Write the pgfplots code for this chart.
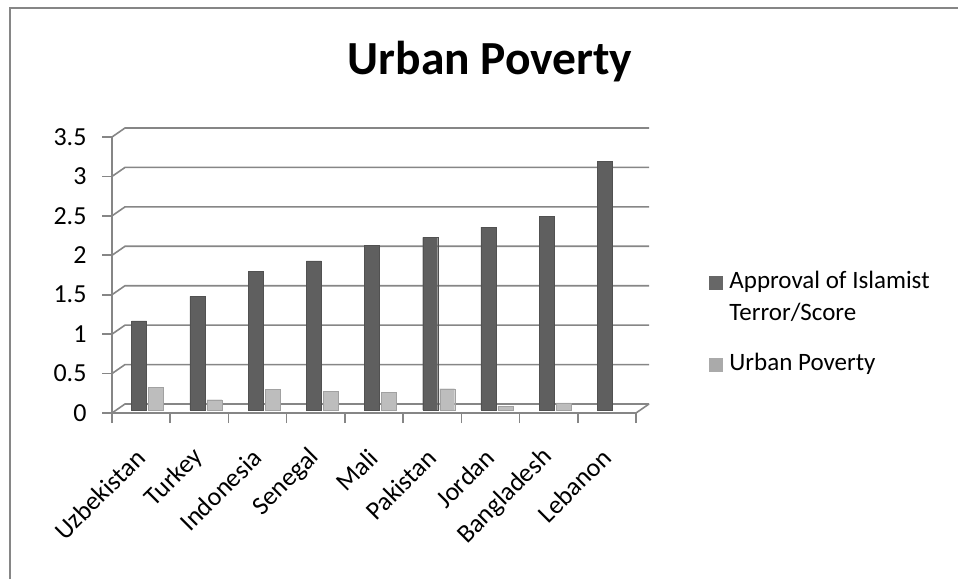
\documentclass[border=0pt]{standalone}
\usepackage{pgfplots}
\pgfplotsset{compat=1.18}
\usepackage{fontspec}
\setmainfont{Carlito}
\definecolor{gridc}{HTML}{868686}
\definecolor{darkbar}{HTML}{5F5F5F}
\definecolor{lightbar}{HTML}{BDBDBD}
\begin{document}
\begin{tikzpicture}
\begin{axis}[
  at={(112pt,166pt)}, anchor=south west,
  scale only axis, width=524pt, height=276pt,
  xmin=0.5, xmax=9.5, ymin=0, ymax=3.5,
  set layers,
  axis x line*=bottom, axis y line*=left,
  axis line style={gridc, line width=1.6pt, -},
  tick style={gridc, line width=1.6pt},
  tick align=outside,
  major tick length=10pt,
  xtick={0.5,1.5,...,9.5}, xticklabels={},
  extra x ticks={1,2,...,9},
  extra x tick labels={Uzbekistan,Turkey,Indonesia,Senegal,Mali,Pakistan,Jordan,Bangladesh,Lebanon},
  extra x tick style={major tick length=0pt, tick label style={xshift=2pt, yshift=-38pt, rotate=45, anchor=east}},
  ytick={0,0.5,1,1.5,2,2.5,3,3.5},
  yticklabel style={xshift=-12pt},
  /pgf/number format/assume math mode=true,
  tick label style={font=\fontsize{26}{30}\selectfont, text=black},
  ybar=2pt, bar width=15pt,
  legend style={at={(1.139,0.534)}, anchor=north west, draw=none, fill=none,
    font=\fontsize{25}{32}\selectfont, row sep=58pt, inner sep=0pt,
    nodes={inner sep=0pt, anchor=base west}},
]
\begin{pgfonlayer}{axis grid}
\pgfplotsinvokeforeach{0,0.5,1,1.5,2,2.5,3,3.5}{
  \draw[gridc, line width=1.6pt] (axis cs:0.5,#1) -- ([shift={(13pt,9pt)}]axis cs:0.5,#1) -- ([shift={(13pt,9pt)}]axis cs:9.5,#1);
}
\draw[gridc, line width=1.6pt] (axis cs:9.5,0) -- ([shift={(13pt,9pt)}]axis cs:9.5,0);
\end{pgfonlayer}
\addplot[fill=darkbar, draw=darkbar!85!black, xshift=6.5pt, yshift=3pt,
  legend image code/.code={\fill[darkbar!95!white] (0pt,-4pt) rectangle (13pt,9pt); \path (20pt,0pt);}]
  coordinates {(1,1.13) (2,1.44) (3,1.76) (4,1.89) (5,2.09) (6,2.19) (7,2.32) (8,2.46) (9,3.15)};
\addplot[fill=lightbar, draw=lightbar!85!black, xshift=6.5pt, yshift=3pt,
  legend image code/.code={\fill[lightbar!90!black] (0pt,-4pt) rectangle (13pt,9pt); \path (20pt,0pt);}]
  coordinates {(1,0.29) (2,0.13) (3,0.26) (4,0.24) (5,0.22) (6,0.27) (7,0.05) (8,0.09)};
\legend{{\begin{tabular}[t]{@{}l@{}}Approval of Islamist\\Terror/Score\end{tabular}}, {\begin{tabular}[t]{@{}l@{}}Urban Poverty\end{tabular}}}
\end{axis}
\draw[gridc, line width=1.8pt] (10pt,0pt) -- (10pt,571pt) -- (958pt,571pt);
\node[anchor=base, inner sep=0pt, font=\fontsize{47.5}{56}\selectfont\bfseries] at (490pt,504pt) {Urban Poverty};
\pgfresetboundingbox
\useasboundingbox (0pt,0pt) rectangle (958pt,579pt);
\end{tikzpicture}
\end{document}
